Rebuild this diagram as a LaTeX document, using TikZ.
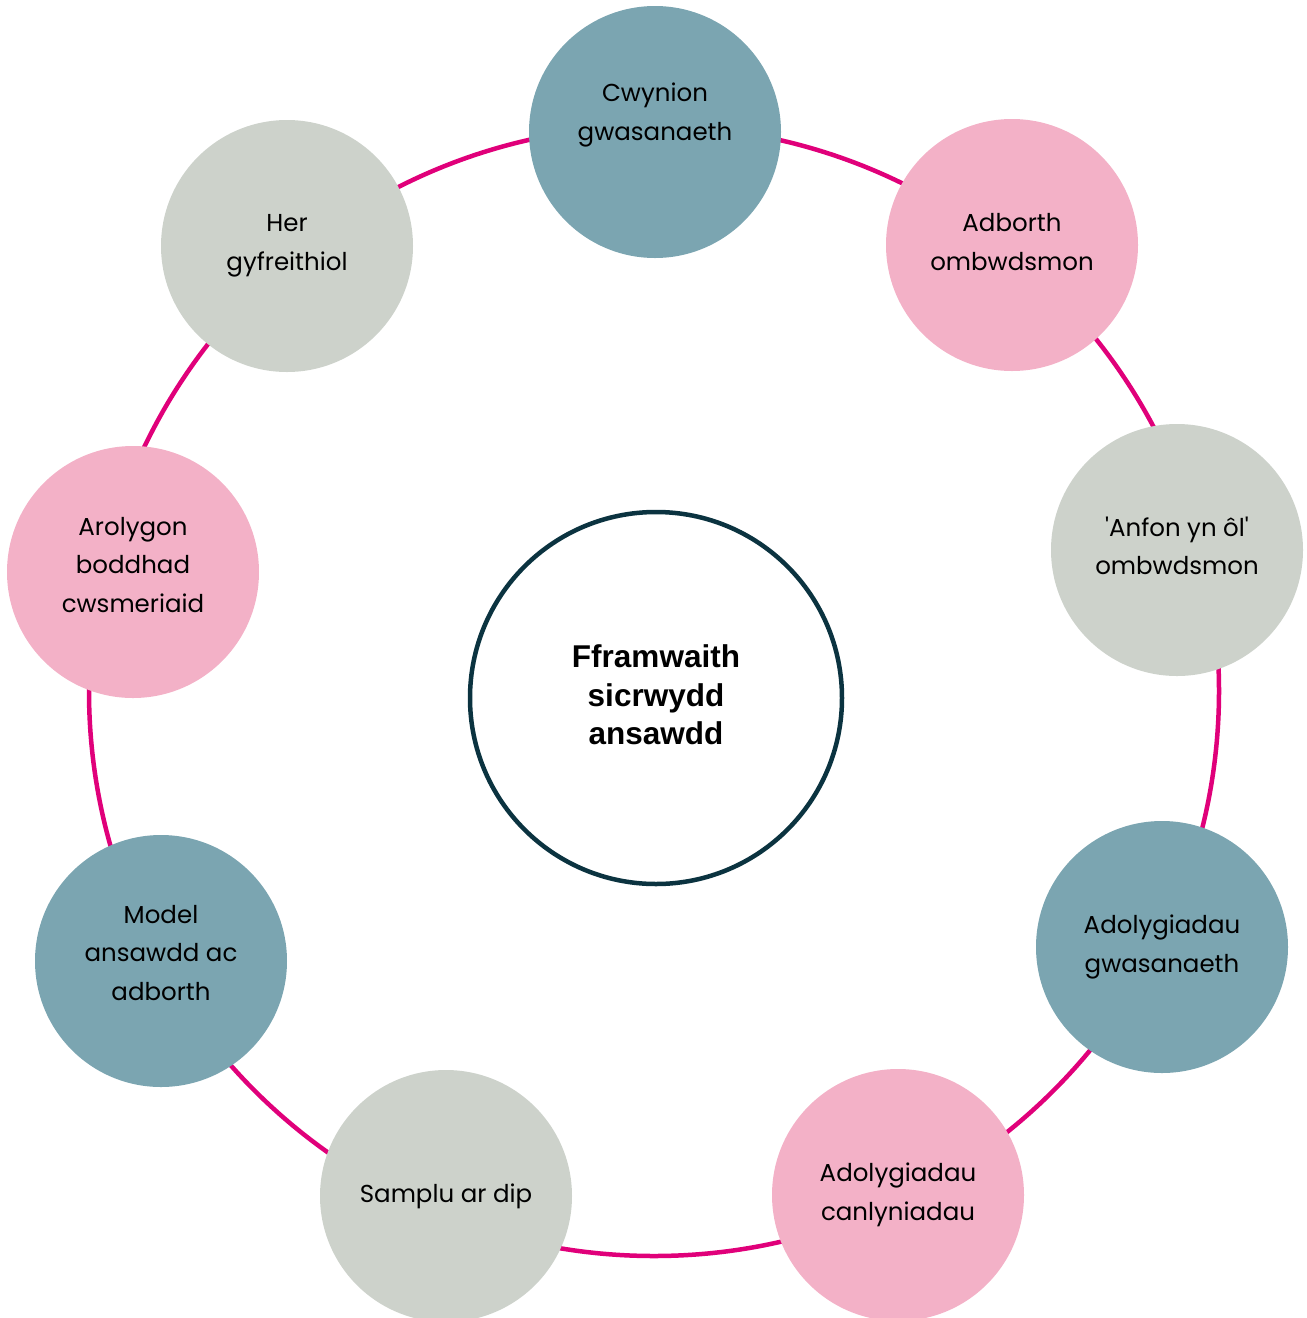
\documentclass[tikz,border=0pt]{standalone}
\usepackage{fontspec}
\setmainfont{Poppins}[Ligatures=TeXOff]
\newfontfamily\centerfont{Liberation Sans}
\definecolor{teal}{HTML}{7BA5B1}
\definecolor{pinkfill}{HTML}{F3B1C7}
\definecolor{greyfill}{HTML}{CDD2CB}
\definecolor{ringcol}{HTML}{E0007A}
\definecolor{hubcol}{HTML}{0B3340}
\tikzset{
  bubble/.style={circle, minimum size=252pt, inner sep=0pt},
  tealb/.style={bubble, fill=teal},
  pinkb/.style={bubble, fill=pinkfill},
  greyb/.style={bubble, fill=greyfill},
  btext/.style={align=center, inner sep=0pt, text=black,
    font=\fontsize{24.5}{38.5}\selectfont},
  hub/.style={circle, minimum size=372pt, inner sep=0pt, draw=hubcol, line width=4.5pt,
    fill=white},
  hubtext/.style={align=center, inner sep=0pt,
    font=\centerfont\bfseries\fontsize{31.5}{38.5}\selectfont},
  ring/.style={draw=ringcol, line width=4.5pt}
}
\begin{document}
\begin{tikzpicture}[x=1pt,y=-1pt]
\useasboundingbox (0,0) rectangle (1307,1318);
\coordinate (ringc) at (654,691);
\draw[ring] (ringc) circle[radius=565];
\node[hub] (hub) at (656,698) {};
\node[hubtext] (hubt) at ([yshift=3pt]hub.center) {Fframwaith\\sicrwydd\\ansawdd};
\node[tealb] (cwy) at (655,132) {};
\node[btext] (cwyt) at ([yshift=17pt]cwy.center) {Cwynion\\gwasanaeth};
\node[pinkb] (adb) at (1012,245) {};
\node[btext] (adbt) at ([yshift=3pt]adb.center) {Adborth\\ombwdsmon};
\node[greyb] (anf) at (1177,550) {};
\node[btext] (anft) at ([yshift=4pt]anf.center) {'Anfon yn ôl'\\ombwdsmon};
\node[tealb] (adg) at (1162,947) {};
\node[btext] (adgt) at ([yshift=0pt]adg.center) {Adolygiadau\\gwasanaeth};
\node[pinkb] (adc) at (898,1195) {};
\node[btext] (adct) at (adc.center) {Adolygiadau\\canlyniadau};
\node[greyb] (sam) at (446,1196) {};
\node[btext] (samt) at (sam.center) {Samplu ar dip};
\node[tealb] (mod) at (161,961) {};
\node[btext] (modt) at ([yshift=8pt]mod.center) {Model\\ansawdd ac\\adborth};
\node[pinkb] (aro) at (133,572) {};
\node[btext] (arot) at ([yshift=7pt]aro.center) {Arolygon\\boddhad\\cwsmeriaid};
\node[greyb] (her) at (287,246) {};
\node[btext] (hert) at (her.center) {Her\\gyfreithiol};
\end{tikzpicture}
\end{document}
